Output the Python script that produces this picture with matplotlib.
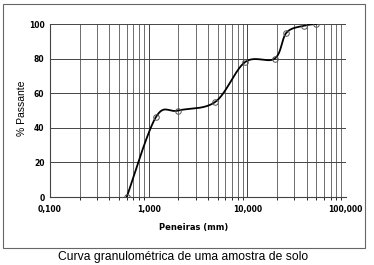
import numpy as np
import matplotlib.pyplot as plt
from matplotlib.patches import Rectangle

peneiras = [0.6, 1.18, 2.0, 4.75, 9.5, 19.0, 25.0, 37.5, 50.0]
passante = [0, 46, 50, 55, 78, 80, 95, 99, 100]
x_ticks = [0.1, 1, 10, 100]
x_labels = ['0,100', '1,000', '10,000', '100,000']
y_ticks = [0, 20, 40, 60, 80, 100]


def suavizar(xs, ys, n=30):
    # Catmull-Rom em espaco de tela (log x), parecido com a suavizacao do Excel
    u = np.log10(xs) * 98.7
    v = np.array(ys, dtype=float) * 1.73
    p = np.column_stack([u, v])
    p = np.vstack([p[0], p, p[-1]])
    out = []
    for i in range(1, len(p) - 2):
        p0, p1, p2, p3 = p[i - 1], p[i], p[i + 1], p[i + 2]
        c1 = p1 + (p2 - p0) / 6
        c2 = p2 - (p3 - p1) / 6
        t = np.linspace(0, 1, n)[:, None]
        b = (1 - t) ** 3 * p1 + 3 * (1 - t) ** 2 * t * c1 + 3 * (1 - t) * t ** 2 * c2 + t ** 3 * p2
        out.append(b)
    out = np.vstack(out)
    return 10 ** (out[:, 0] / 98.7), out[:, 1] / 1.73


fig = plt.figure(figsize=(3.74, 2.65), dpi=100)
ax = fig.add_axes([0.1337, 0.2566, 0.791, 0.6528])

cx, cy = suavizar(peneiras, passante)
ax.plot(cx, cy, color='black', lw=1.3, zorder=3)
ax.plot(peneiras, passante, 'o', mfc='none', mec='#555555', ms=4, mew=0.7, zorder=4)

ax.set_xscale('log')
ax.set_xlim(0.1, 100)
ax.set_ylim(0, 100)
ax.set_xticks(x_ticks)
ax.set_xticklabels(x_labels)
ax.set_yticks(y_ticks)
ax.tick_params(axis='both', length=0, labelsize=5.5, pad=4)
for lab in ax.get_xticklabels() + ax.get_yticklabels():
    lab.set_fontweight('bold')
ax.tick_params(axis='x', pad=6)
ax.grid(True, which='major', color='#444444', lw=0.7)
ax.grid(True, which='minor', axis='x', color='#555555', lw=0.6)
for s in ax.spines.values():
    s.set_visible(False)
ax.spines['left'].set_visible(True)
ax.spines['bottom'].set_visible(True)
ax.spines['left'].set_color('#444444')
ax.spines['bottom'].set_color('#444444')

fig.text(0.058, 0.59, '% Passante', rotation=90, ha='center', va='center',
         fontsize=7.5, family='Liberation Sans')
fig.text(0.519, 0.14, 'Peneiras (mm)', ha='center', va='center',
         fontsize=6.0, fontweight='bold')
fig.text(0.49, 0.029, 'Curva granulométrica de uma amostra de solo', ha='center',
         va='center', fontsize=8.7, family='Liberation Sans')

fig.patches.append(Rectangle((3 / 374, 1 - 248 / 265), 362 / 374, 244 / 265,
                             transform=fig.transFigure, fill=False,
                             ec='#666666', lw=0.8))

fig.savefig('out.png', dpi=100)
